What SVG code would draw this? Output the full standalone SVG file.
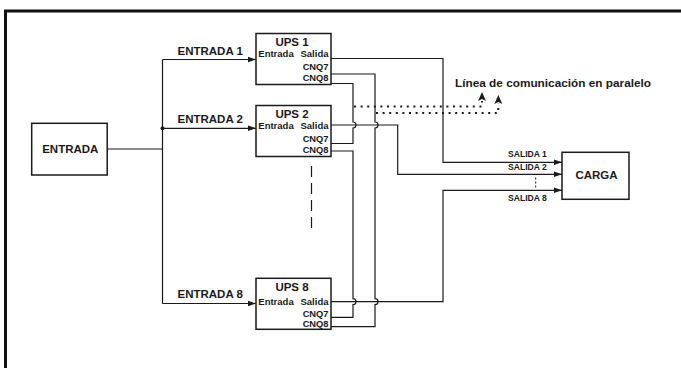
<svg xmlns="http://www.w3.org/2000/svg" width="681" height="368" viewBox="0 0 681 368">
<style>
text{font-family:"Liberation Sans",Arial,sans-serif;font-weight:bold;fill:#1a1a1a}
.box{fill:#fff;stroke:#1a1a1a;stroke-width:1.5}
.ln{fill:none;stroke:#1a1a1a;stroke-width:1.2}
.dot{fill:none;stroke:#1a1a1a;stroke-width:2;stroke-dasharray:2 4.6}
.t{font-size:11.5px}
.s{font-size:9.5px}
.c{font-size:9.3px}
.o{font-size:8.6px}
</style>
<defs>
<marker id="ah" markerWidth="9" markerHeight="7" refX="8.5" refY="3.5" orient="auto" markerUnits="userSpaceOnUse">
<path d="M0,0.5 L8.5,3.5 L0,6.5 z" fill="#1a1a1a"/>
</marker>
</defs>
<path d="M5.5,368 V11 H681" fill="none" stroke="#111" stroke-width="3"/>

<g id="connectors">
<path class="ln" d="M107,149 H162.5"/>
<path class="ln" d="M162.5,59.5 V303.5"/>
<path class="ln" d="M162.5,59.5 H256" marker-end="url(#ah)"/>
<path class="ln" d="M162.5,128.3 H256" marker-end="url(#ah)"/>
<path class="ln" d="M162.5,303.5 H256" marker-end="url(#ah)"/>
<circle cx="162.5" cy="128.3" r="2" fill="#1a1a1a"/>
<text class="t" x="177.5" y="55">ENTRADA 1</text>
<text class="t" x="177.5" y="122.5">ENTRADA 2</text>
<text class="t" x="177.5" y="298">ENTRADA 8</text>

<path class="ln" d="M331,58.5 H443 V162.3 H562" marker-end="url(#ah)"/>
<path class="ln" d="M331,125 H397.7 V174.3 H562" marker-end="url(#ah)"/>
<path class="ln" d="M331,301.7 H443 V190.3 H562" marker-end="url(#ah)"/>
<text class="o" x="508" y="156.7">SALIDA 1</text>
<text class="o" x="508" y="170.3">SALIDA 2</text>
<text class="o" x="508" y="201">SALIDA 8</text>
<path d="M535.7,177.5 V189" stroke="#1a1a1a" stroke-width="1" stroke-dasharray="2 2"/>

<path class="ln" d="M331,74 H375 V122 A3,3 0 0 1 375,128 V298.7 A3,3 0 0 1 375,304.7 V326.7 H331"/>
<path class="ln" d="M331,83.5 H353 V122 A3,3 0 0 1 353,128 V143.5 H331"/>
<path class="ln" d="M331,151 H353 V298.7 A3,3 0 0 1 353,304.7 V317.3 H331"/>

<path class="dot" d="M354,106.5 H482 V101"/>
<path class="dot" d="M376,113 H498.3 V103"/>
<path d="M482,92 L486,101 L482,99 L478,101 z" fill="#1a1a1a"/>
<path d="M498.3,95 L502.3,104 L498.3,102 L494.3,104 z" fill="#1a1a1a"/>
<text x="455" y="86.7" style="font-size:11.8px">Línea de comunicación en paralelo</text>

<path d="M311.5,166 V230" stroke="#1a1a1a" stroke-width="1.2" stroke-dasharray="11 6"/>
</g>

<g id="entrada">
<rect class="box" x="31.7" y="123.3" width="75.5" height="51.7"/>
<text class="t" x="70.3" y="152.7" text-anchor="middle">ENTRADA</text>
</g>

<g id="ups1">
<rect class="box" x="256" y="33.5" width="75" height="51"/>
<text class="t" x="292" y="46" text-anchor="middle">UPS 1</text>
<text class="s" x="258.3" y="56.7">Entrada</text>
<text class="s" x="328.5" y="56.7" text-anchor="end">Salida</text>
<text class="c" x="328.5" y="70.2" text-anchor="end">CNQ7</text>
<text class="c" x="328.5" y="81" text-anchor="end">CNQ8</text>
</g>

<g id="ups2">
<rect class="box" x="256" y="105.5" width="75" height="51"/>
<text class="t" x="292" y="118.3" text-anchor="middle">UPS 2</text>
<text class="s" x="258.3" y="129">Entrada</text>
<text class="s" x="328.5" y="129" text-anchor="end">Salida</text>
<text class="c" x="328.5" y="141.7" text-anchor="end">CNQ7</text>
<text class="c" x="328.5" y="153.3" text-anchor="end">CNQ8</text>
</g>

<g id="ups8">
<rect class="box" x="256" y="278.3" width="75" height="51"/>
<text class="t" x="292" y="290.5" text-anchor="middle">UPS 8</text>
<text class="s" x="258.3" y="304.5">Entrada</text>
<text class="s" x="328.5" y="304.5" text-anchor="end">Salida</text>
<text class="c" x="328.5" y="316.5" text-anchor="end">CNQ7</text>
<text class="c" x="328.5" y="326.5" text-anchor="end">CNQ8</text>
</g>

<g id="carga">
<rect class="box" x="562" y="152.3" width="67" height="47"/>
<text class="t" x="596.5" y="179" text-anchor="middle">CARGA</text>
</g>
</svg>
